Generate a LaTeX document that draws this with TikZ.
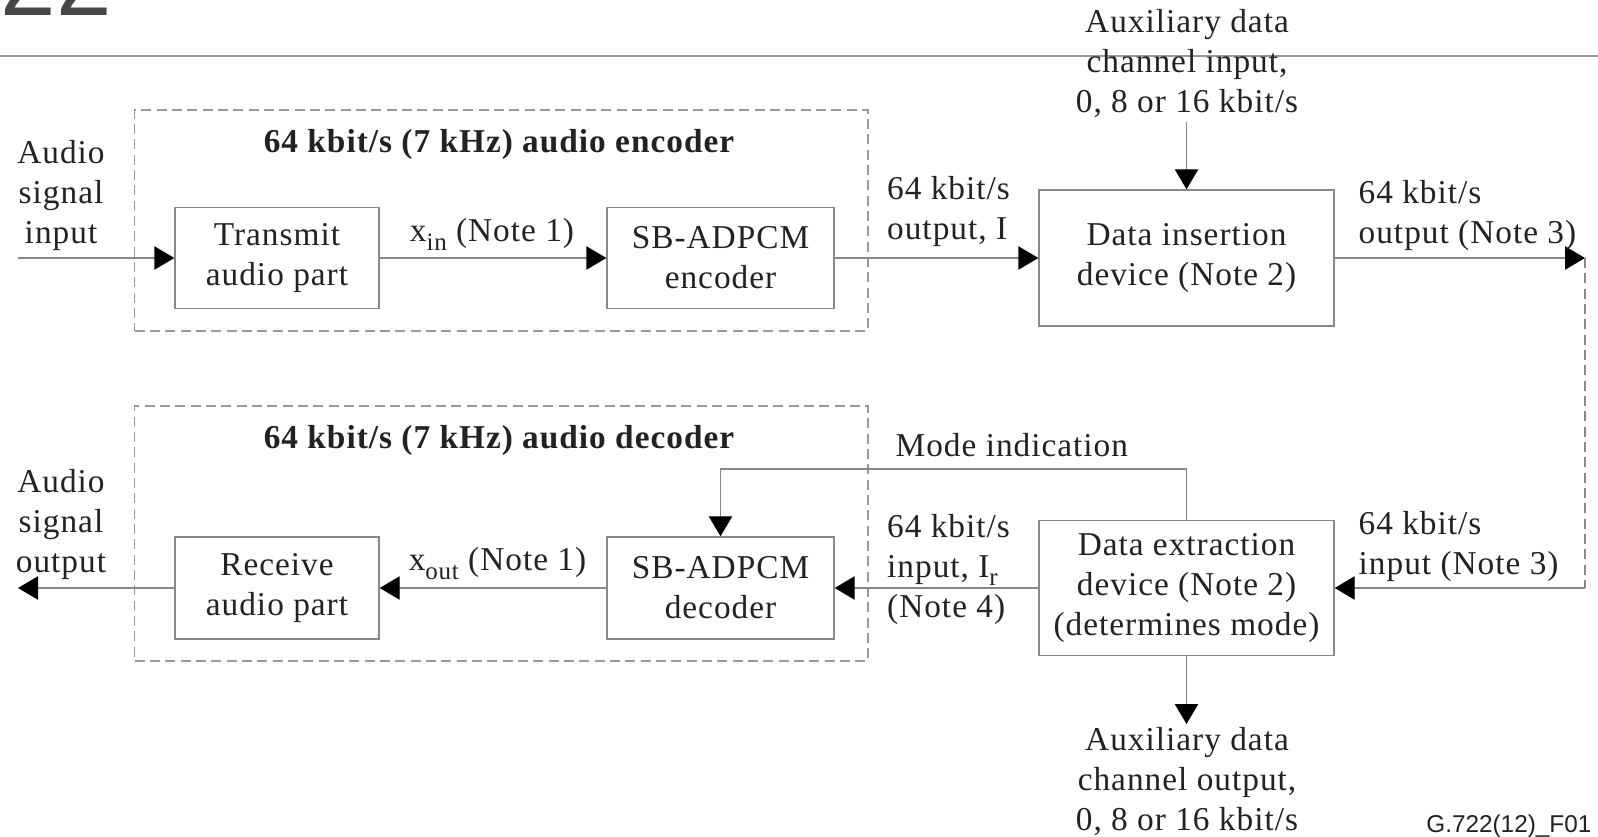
\documentclass[tikz,border=0pt]{standalone}
\usepackage{fontspec}
\setmainfont[LetterSpace=3]{Liberation Serif}
\setsansfont{Liberation Sans}
\usetikzlibrary{arrows.meta,calc}
\definecolor{ink}{HTML}{222222}
\definecolor{wire}{HTML}{888888}
\definecolor{framec}{HTML}{999999}
\newcommand{\lowsub}[1]{\raisebox{-0.55ex}{\fontsize{7.5}{8}\selectfont #1}}
\tikzset{
  txt/.style={font=\fontsize{10}{12}\selectfont, text=ink, inner sep=0pt},
  blk/.style={txt, draw=wire, line width=0.4pt, align=center},
  grp/.style={draw=framec, line width=0.4pt, dash pattern=on 3pt off 1.6pt},
  conn/.style={draw=wire, line width=0.4pt, -{Triangle[length=6pt,width=7pt,color=black]}},
  wireonly/.style={draw=wire, line width=0.4pt},
  ttl/.style={txt, font=\bfseries\fontsize{10}{12}\selectfont},
}
\begin{document}
\begin{tikzpicture}[x=0.3pt,y=-0.3pt]
\useasboundingbox (0,0) rectangle (1598,837);

% page header remnants
\node[font=\sffamily\fontsize{30}{30}\selectfont, text=black!72, inner sep=0pt, anchor=base west] (pgnum) at (0,16) {22};
\draw[draw=framec, line width=0.4pt] (0,56) -- (1598,56);

% encoder / decoder groupings
\node[grp, minimum width=220.05pt, minimum height=66.3pt] (encgrp) at (501.25,220.5) {};
\node[grp, minimum width=220.05pt, minimum height=76.5pt] (decgrp) at (501.25,533.5) {};
\node[ttl] (enctitle) at (499,144) {64 kbit/s (7 kHz) audio encoder};
\node[ttl] (dectitle) at (499,440) {64 kbit/s (7 kHz) audio decoder};

% processing blocks
\node[blk, minimum width=61.2pt, minimum height=30.3pt] (tx) at (277,258) {Transmit\\audio part};
\node[blk, minimum width=68.1pt, minimum height=30.3pt] (enc) at (720.5,258) {SB-ADPCM\\encoder};
\node[blk, minimum width=88.5pt, minimum height=40.8pt] (ins) at (1186.5,258) {Data insertion\\device (Note 2)};
\node[blk, minimum width=61.2pt, minimum height=30.6pt] (rx) at (277,588) {Receive\\audio part};
\node[blk, minimum width=68.1pt, minimum height=30.6pt] (dec) at (720.5,588) {SB-ADPCM\\decoder};
\node[blk, minimum width=88.5pt, minimum height=40.5pt] (ext) at (1186.5,588) {Data extraction\\device (Note 2)\\(determines mode)};

% free ends
\coordinate (ain) at (18,258);
\coordinate (aout) at (18,588);
\coordinate (lineout) at (1585,258);
\coordinate (linein) at (1585,588);
\coordinate (auxin) at (1186.5,122);
\coordinate (auxout) at (1186.5,724);
\coordinate (modey) at (0,469);

% signal flow
\draw[conn] (ain) -- (tx.west);
\draw[conn] (tx.east) -- (enc.west);
\draw[conn] (enc.east) -- (ins.west);
\draw[conn] (ins.east) -- (lineout);
\draw[wireonly, dash pattern=on 3pt off 1.6pt] (lineout) -- (linein);
\draw[conn] (linein) -- (ext.east);
\draw[conn] (ext.west) -- (dec.east);
\draw[conn] (dec.west) -- (rx.east);
\draw[conn] (rx.west) -- (aout);
\draw[conn] (auxin) -- (ins.north);
\draw[conn] (ext.south) -- (auxout);
\draw[conn] (ext.north) -- (ext.north |- modey) -| (dec.north);

% labels
\node[txt, align=center] (lin) at (61,195) {Audio\\signal\\input};
\node[txt, align=center] (lout) at (61,524) {Audio\\signal\\output};
\node[txt, align=center] (lauxin) at (1187,64) {Auxiliary data\\channel input,\\0, 8 or 16 kbit/s};
\node[txt, align=center] (lauxout) at (1187,781) {Auxiliary data\\channel output,\\0, 8 or 16 kbit/s};
\node[txt, align=left, anchor=west] (lencout) at (886.5,211.5) {64 kbit/s\\output, I};
\node[txt, align=left, anchor=west] (lnetout) at (1358,215) {64 kbit/s\\output (Note 3)};
\node[txt, align=left, anchor=west] (lnetin) at (1358,546) {64 kbit/s\\input (Note 3)};
\node[txt, align=left, anchor=west] (ldecin) at (886.5,569) {64 kbit/s\\input, I\lowsub{r}\\(Note 4)};
\node[txt, anchor=west] (lmode) at (895,445) {Mode indication};
\node[txt, anchor=base] (lxin) at (492,242) {x\lowsub{in} (Note 1)};
\node[txt, anchor=base] (lxout) at (497.5,571) {x\lowsub{out} (Note 1)};

% figure tag
\node[font=\sffamily\fontsize{7.3}{8}\selectfont, text=ink, inner sep=0pt, anchor=base east] (tag) at (1592,832) {G.722(12)\_F01};
\end{tikzpicture}
\end{document}
